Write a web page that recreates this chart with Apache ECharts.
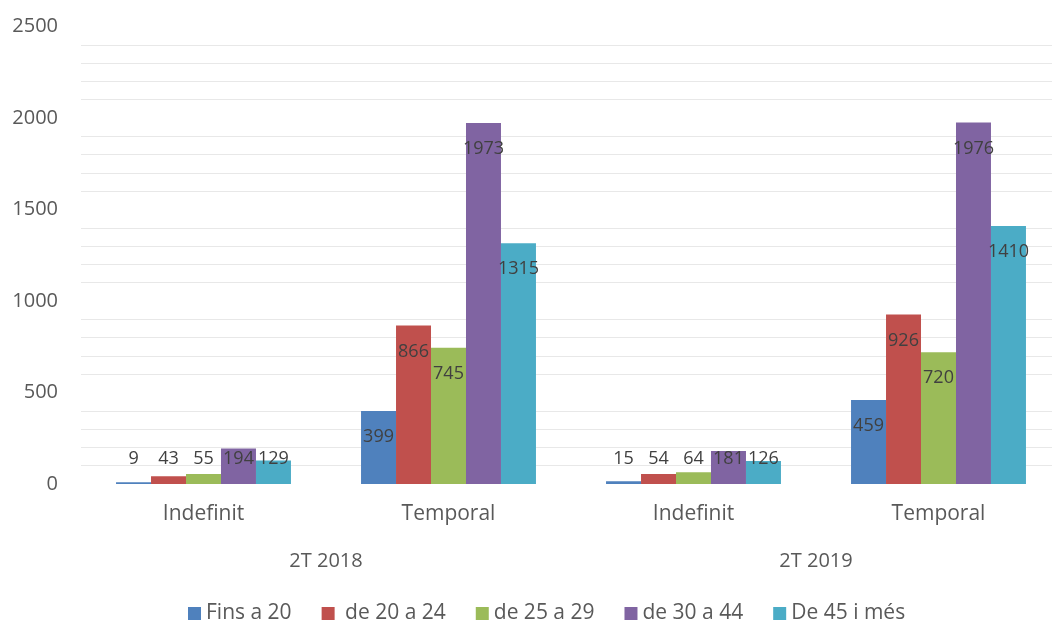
<!DOCTYPE html>
<html>
<head>
<meta charset="utf-8">
<script src="https://cdn.jsdelivr.net/npm/echarts@6/dist/echarts.min.js"></script>
<style>
  html, body { margin: 0; padding: 0; background: #fff; overflow: hidden; }
  /* plot area runs a little past the right edge, like the original */
  #chart { width: 1062px; height: 624px; }
</style>
</head>
<body>
<div id="chart"></div>
<script>
// categories
const subCats = ["Indefinit", "Temporal", "Indefinit", "Temporal"]
const periods = ["2T 2018", "2T 2019"]
// series names
const seriesNames = ["Fins a 20", " de 20 a 24", "de 25 a 29", "de 30 a 44", "De 45 i més"]
// values per series (2T2018 Indef, 2T2018 Temp, 2T2019 Indef, 2T2019 Temp)
const fins20 = [9, 399, 15, 459]
const de20a24 = [43, 866, 54, 926]
const de25a29 = [55, 745, 64, 720]
const de30a44 = [194, 1973, 181, 1976]
const de45 = [129, 1315, 126, 1410]
// y ticks
const yMin = 0
const yMax = 2500
const yStep = 500

const colors = ["#4F81BD", "#C0504D", "#9BBB59", "#8064A2", "#4BACC6"]
const font = "Open Sans"

// short bars get their label above the baseline, tall ones inside the top
function withLabels(arr) {
  return arr.map(v => ({
    value: v,
    label: v < 280
      ? { position: "insideBottom", distance: 16 }
      : { position: "insideTop", distance: 17 },
  }))
}

const allData = [fins20, de20a24, de25a29, de30a44, de45]

const chart = echarts.init(document.getElementById("chart"))
chart.setOption({
  animation: false,
  color: colors,
  textStyle: { fontFamily: font },
  grid: { left: 81, top: 26.5, width: 980, height: 457.5, containLabel: false },
  legend: {
    left: 183,
    top: 598,
    icon: "rect",
    itemWidth: 13,
    itemHeight: 13,
    itemGap: 30,
    textStyle: { fontSize: 21, color: "#595959", fontFamily: font },
    data: seriesNames,
  },
  xAxis: [
    {
      type: "category",
      data: subCats,
      axisLine: { show: false },
      axisTick: { show: false },
      axisLabel: { fontSize: 21, color: "#595959", margin: 20, fontFamily: font },
    },
    {
      type: "category",
      data: periods,
      position: "bottom",
      offset: 47,
      axisLine: { show: false },
      axisTick: { show: false },
      axisLabel: { fontSize: 20, color: "#595959", margin: 20, fontFamily: font },
    },
  ],
  yAxis: {
    type: "value",
    min: yMin,
    max: yMax,
    interval: yStep,
    axisLine: { show: false },
    axisTick: { show: false },
    splitLine: { show: false },
    minorTick: { show: false, splitNumber: 5 },
    minorSplitLine: { show: true, lineStyle: { color: "#E8E8E8", width: 1 } },
    axisLabel: {
      fontSize: 20,
      color: "#595959",
      margin: 23,
      fontFamily: font,
      formatter: v => String(v),
    },
  },
  series: seriesNames.map((name, i) => ({
    name: name,
    type: "bar",
    xAxisIndex: 0,
    barGap: "0%",
    barCategoryGap: "28.6%",
    label: { show: true, fontSize: 18, color: "#404040", fontFamily: font },
    data: withLabels(allData[i]),
  })),
})
</script>
</body>
</html>
